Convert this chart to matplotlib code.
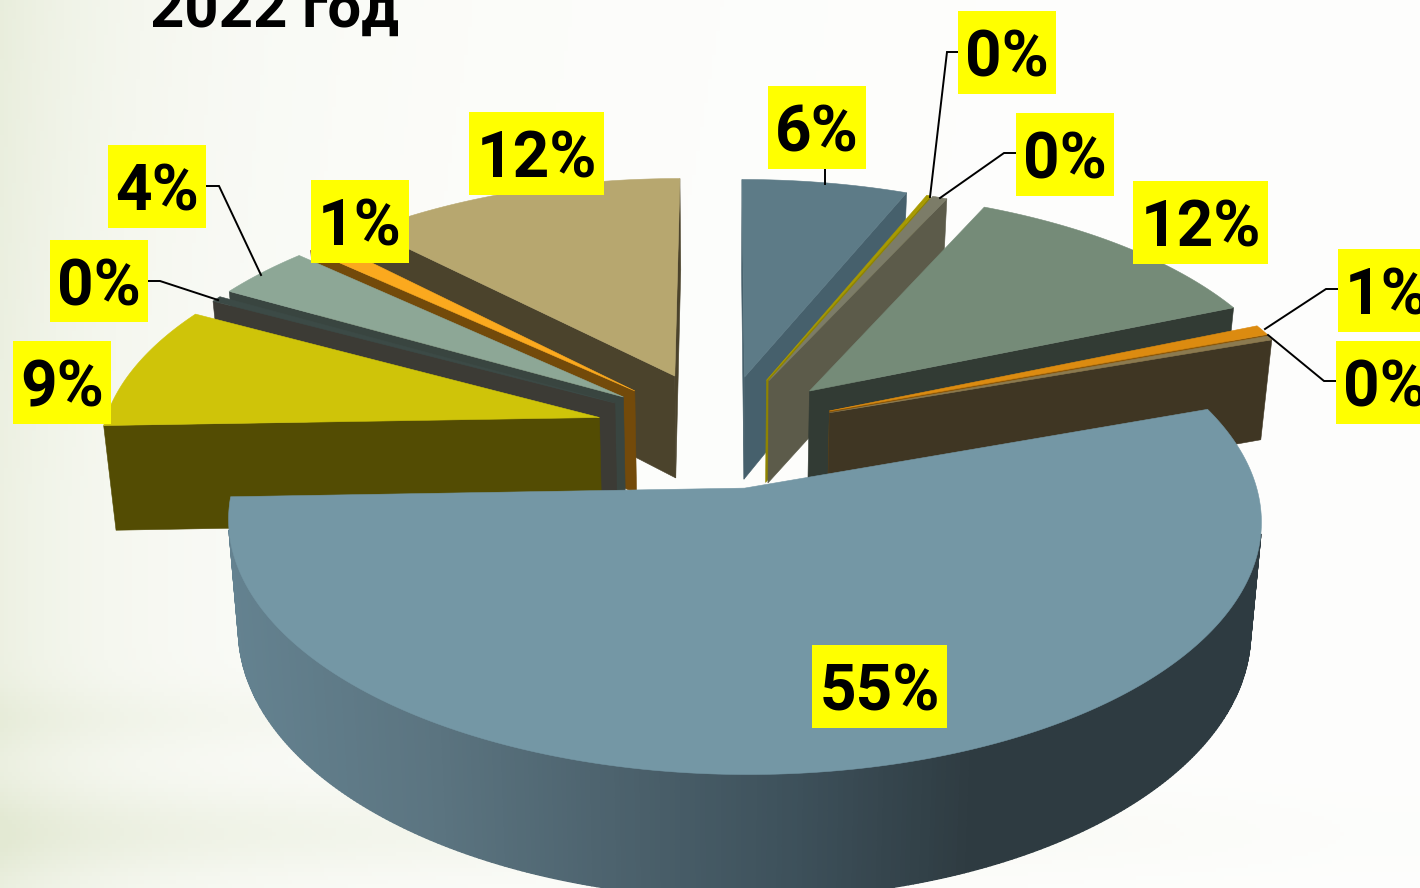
import numpy as np
import matplotlib
matplotlib.use("Agg")
import matplotlib.pyplot as plt
from matplotlib.patches import Polygon, Rectangle
from matplotlib.collections import PolyCollection
from matplotlib.colors import LinearSegmentedColormap

title = "2022 год"
shares = [6.2, 0.15, 0.55, 11.8, 0.7, 0.3, 54.9, 8.4, 0.4, 3.6, 0.9, 12.3]
labels = ["6%", "0%", "0%", "12%", "1%", "0%", "55%", "9%", "0%", "4%", "1%", "12%"]
explode = [0.24, 0.24, 0.24, 0.25, 0.235, 0.232, 0.24, 0.255, 0.25, 0.25, 0.25, 0.26]
top_colors = ["#5d7b87", "#a89a00", "#7c7c68", "#758b78", "#dc8b10", "#8b7a50",
              "#7497a5", "#cfc409", "#3c4a46", "#8da796", "#fba91e", "#b7a76f"]
side_colors = ["#46606c", "#8f8400", "#5c5b4a", "#323b34", "#8a5608", "#3f3623",
               "#2e3b41", "#534c03", "#3c3b35", "#394540", "#734a0a", "#4b432c"]
# label box: left, top, width, height
label_boxes = [(768, 86, 98, 83), (958, 11, 98, 83), (1016, 113, 98, 83), (1133, 181, 135, 83),
               (1338, 249, 98, 83), (1336, 341, 98, 83), (812, 645, 135, 83), (13, 341, 98, 83),
               (50, 240, 98, 82), (108, 145, 98, 83), (311, 180, 98, 83), (469, 112, 135, 83)]
leaders = [[(825, 169), (825, 184)],
           [(958, 52), (947, 52), (930, 197)],
           [(1016, 153), (1004, 153), (940, 198)],
           [(1338, 289), (1326, 289), (1265, 329)],
           [(1336, 381), (1324, 381), (1268, 335)],
           [(148, 281), (160, 281), (218, 300)],
           [(206, 186), (219, 186), (261, 275)]]

CX, CY, RX, RY, PERSP, HEIGHT, BOTTOM_X = 722, 431, 497, 235, 0.125, 105, 0.98
FONT = ["Roboto", "DejaVu Sans"]


def project(X, Y, bottom=False):
    X, Y = np.asarray(X, float), np.asarray(Y, float)
    p = 1 / (1 + PERSP * Y)
    sx = CX + RX * X * p
    sy = CY - RY * Y * p
    if bottom:
        sx = CX + (sx - CX) * BOTTOM_X
        sy = sy + HEIGHT * p
    return np.column_stack([sx, sy])


def area(q):
    x, y = np.asarray(q).T
    return 0.5 * np.sum(x * np.roll(y, -1) - np.roll(x, -1) * y)


fig = plt.figure(figsize=(14.2, 8.88), dpi=100)
ax = fig.add_axes([0, 0, 1, 1])
ax.set_xlim(0, 1420)
ax.set_ylim(888, 0)
ax.axis("off")

# background wash
yy, xx = np.mgrid[0:888:222j, 0:1420:355j]
left = (np.exp(-xx / 110) * 0.5 + np.exp(-xx / 420) * 0.28) * (1 - 0.2 * np.clip(yy / 500, 0, 1))
band1 = 0.22 * np.exp(-((yy - 720) / 32) ** 2) * np.clip(1 - xx / 750, 0, 1)
band2 = 0.4 * np.exp(-((yy - 835) / 45) ** 2) * np.clip(1 - xx / 1500, 0.1, 1)
wash = np.clip(left + band1 + band2, 0, 1)
bg = LinearSegmentedColormap.from_list("bg", ["#fefefd", "#e3e9d3"])
ax.imshow(wash, cmap=bg, vmin=0, vmax=1, extent=(0, 1420, 888, 0), aspect="auto", zorder=0)

edges = np.concatenate([[0], np.cumsum(shares)]) / np.sum(shares) * 2 * np.pi
rim_cmap = LinearSegmentedColormap.from_list(
    "rim", [(0, "#648290"), (0.2, "#5b7480"), (0.55, "#3d505a"), (0.72, "#2e3b41"), (1, "#2e3b41")])

mids = (edges[:-1] + edges[1:]) / 2
order = np.argsort(-np.cos(mids))
z = 2
for i in order:
    a0, a1, mid = edges[i], edges[i + 1], mids[i]
    X0, Y0 = explode[i] * np.sin(mid), explode[i] * np.cos(mid)
    t = np.linspace(a0, a1, max(3, int(np.degrees(a1 - a0) * 2)))
    RimX, RimY = X0 + np.sin(t), Y0 + np.cos(t)
    top_rim = project(RimX, RimY)
    bot_rim = project(RimX, RimY, bottom=True)
    apex_t = project([X0], [Y0])[0]
    apex_b = project([X0], [Y0], bottom=True)[0]

    end_face = [apex_t, top_rim[-1], bot_rim[-1], apex_b]
    start_face = [top_rim[0], apex_t, apex_b, bot_rim[0]]
    for face in (start_face, end_face):
        if area(face) > 0:
            ax.add_patch(Polygon(face, closed=True, fc=side_colors[i], ec=side_colors[i], lw=0.4, zorder=z))
    quads, cols = [], []
    for k in range(len(t) - 1):
        q = [top_rim[k], top_rim[k + 1], bot_rim[k + 1], bot_rim[k]]
        if area(q) < 0:
            quads.append(q)
            cols.append(np.mean([p[0] for p in q]))
    if quads:
        if shares[i] > 50:
            c = rim_cmap((np.array(cols) - 230) / (1262 - 230))
        else:
            c = [side_colors[i]] * len(quads)
        ax.add_collection(PolyCollection(quads, facecolors=c, edgecolors=c, linewidths=1.0, zorder=z))
    ax.add_patch(Polygon(np.vstack([apex_t, top_rim]), closed=True, fc=top_colors[i],
                         ec=top_colors[i], lw=0.4, zorder=z + 0.5))
    z += 1

for pts in leaders:
    xs, ys = zip(*pts)
    ax.plot(xs, ys, color="black", lw=1.4, zorder=30, solid_joinstyle="miter")

for lab, (x, y, w, h) in zip(labels, label_boxes):
    ax.add_patch(Rectangle((x, y), w, h, fc="#ffff00", ec="none", zorder=31))
    ax.text(x + w / 2, y + h / 2, lab, family=FONT, weight="bold", fontsize=46,
            ha="center", va="center_baseline", color="black", zorder=32)

ax.text(274, 27, title, family=FONT, weight="bold", fontsize=43, ha="center", va="baseline",
        color="black", zorder=32)

fig.savefig("out.png", dpi=100)
